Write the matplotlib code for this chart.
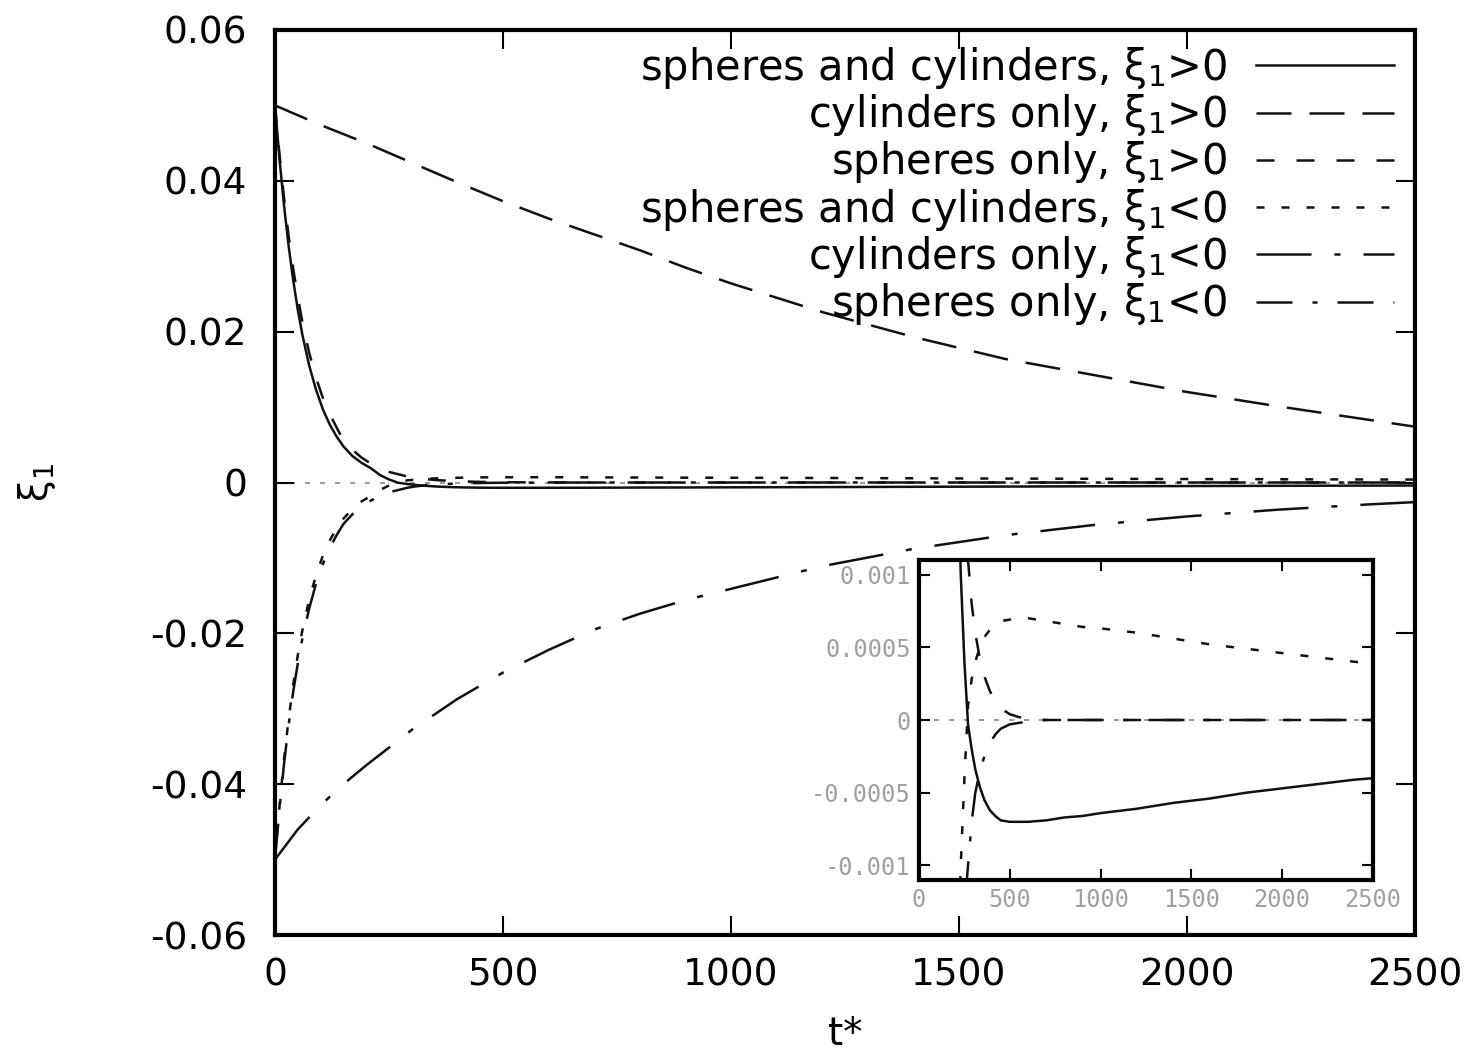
import matplotlib
matplotlib.use('Agg')
import matplotlib.pyplot as plt

# t* sample points for the fast runs (spheres present) and the slow cylinder-only runs
t_fast = [0, 10, 20, 30, 40, 50, 60, 75, 90, 105, 120, 135, 150, 170, 190, 210,
          230, 250, 270, 290, 310, 335, 360, 390, 420, 450, 500, 550, 600, 700,
          800, 900, 1000, 1200, 1400, 1600, 1800, 2000, 2200, 2400, 2500]
t_slow = [0, 50, 100, 150, 200, 300, 400, 500, 600, 700, 800, 900, 1000, 1200,
          1400, 1600, 1800, 2000, 2200, 2400, 2500]

sc_pos = [0.0500, 0.0428, 0.0366, 0.0313, 0.0268, 0.0229, 0.0196, 0.0155, 0.0123,
          0.0097, 0.0077, 0.0061, 0.0048, 0.0035, 0.0026, 0.0019, 0.0010, 0.0004,
          -0.00003, -0.0002, -0.00034, -0.00046, -0.00055, -0.00062, -0.00066,
          -0.00069, -0.0007, -0.0007, -0.0007, -0.00069, -0.00067, -0.00066,
          -0.00064, -0.00061, -0.00057, -0.00054, -0.0005, -0.00047, -0.00044,
          -0.00041, -0.0004]
sc_neg = [-0.0500, -0.0428, -0.0366, -0.0313, -0.0268, -0.0229, -0.0196, -0.0155,
          -0.0123, -0.0097, -0.0077, -0.0061, -0.0048, -0.0035, -0.0025, -0.0018,
          -0.0010, -0.0004, 0.0001, 0.00028, 0.0004, 0.0005, 0.00057, 0.00062,
          0.00065, 0.00068, 0.00069, 0.0007, 0.0007, 0.00068, 0.00066, 0.00064,
          0.00063, 0.0006, 0.00056, 0.00052, 0.00049, 0.00046, 0.00043, 0.0004,
          0.00039]
sph_pos = [0.0500, 0.0434, 0.0376, 0.0326, 0.0283, 0.0246, 0.0213, 0.0172, 0.0139,
           0.0112, 0.0091, 0.0073, 0.0056, 0.0043, 0.0033, 0.0025, 0.0019, 0.0014,
           0.0011, 0.0008, 0.0006, 0.00042, 0.0003, 0.0002, 0.00013, 0.00008,
           0.00004, 0.00002, 0.00001, 0.0, 0.0, 0.0, 0.0, 0.0, 0.0, 0.0, 0.0, 0.0,
           0.0, 0.0, 0.0]
sph_neg = [-0.0500, -0.0432, -0.0372, -0.0321, -0.0277, -0.0240, -0.0207, -0.0167,
           -0.0134, -0.0108, -0.0087, -0.0070, -0.0055, -0.0042, -0.0032, -0.0024,
           -0.0018, -0.0013, -0.001, -0.0007, -0.0005, -0.00035, -0.00025,
           -0.00016, -0.0001, -0.00006, -0.00003, -0.00002, -0.00001, 0.0, 0.0,
           0.0, 0.0, 0.0, 0.0, 0.0, 0.0, 0.0, 0.0, 0.0, 0.0]
cyl_pos = [0.0500, 0.0487, 0.0474, 0.0462, 0.0450, 0.0424, 0.0398, 0.0373, 0.0350,
           0.0329, 0.0308, 0.0285, 0.0264, 0.0226, 0.0193, 0.0164, 0.0142, 0.0120,
           0.0101, 0.0083, 0.0074]
cyl_neg = [-0.0500, -0.0460, -0.0428, -0.0400, -0.0375, -0.0328, -0.0287, -0.0252,
           -0.0222, -0.0195, -0.0174, -0.0156, -0.0141, -0.0111, -0.0088, -0.0070,
           -0.0056, -0.0045, -0.0036, -0.0029, -0.0026]

labels = [r'spheres and cylinders, $\mathregular{\xi_1}$>0',
          r'cylinders only, $\mathregular{\xi_1}$>0',
          r'spheres only, $\mathregular{\xi_1}$>0',
          r'spheres and cylinders, $\mathregular{\xi_1}$<0',
          r'cylinders only, $\mathregular{\xi_1}$<0',
          r'spheres only, $\mathregular{\xi_1}$<0']

main_yticks = [-0.06, -0.04, -0.02, 0, 0.02, 0.04, 0.06]
main_ylabels = ['-0.06', '-0.04', '-0.02', '0', '0.02', '0.04', '0.06']
main_xticks = [0, 500, 1000, 1500, 2000, 2500]
inset_yticks = [-0.001, -0.0005, 0, 0.0005, 0.001]
inset_ylabels = ['-0.001', '-0.0005', '0', '0.0005', '0.001']

LW = 1.8
series = [
    (t_fast, sc_pos, dict(linestyle='-')),
    (t_slow, cyl_pos, dict(dashes=(14, 7.2))),
    (t_fast, sph_pos, dict(dashes=(7.2, 8.8))),
    (t_fast, sc_neg, dict(dashes=(3.2, 6.8))),
    (t_slow, cyl_neg, dict(dashes=(22, 9.2, 2.4, 9.2))),
    (t_fast, sph_neg, dict(dashes=(14.4, 8, 2, 8))),
]

fig = plt.figure(figsize=(14.81, 10.58), dpi=100)
ax = fig.add_axes([275 / 1481, 1 - 935 / 1058, 1140 / 1481, 905 / 1058])

ax.axhline(0, color='#888888', lw=1.2, dashes=(3, 6), zorder=1)
for (t, y, style), lab in zip(series, labels):
    ax.plot(t, y, color='#111111', lw=LW, label=lab, **style)

ax.set_xlim(0, 2500)
ax.set_ylim(-0.06, 0.06)
ax.set_xticks(main_xticks)
ax.set_yticks(main_yticks)
ax.set_yticklabels(main_ylabels)
ax.tick_params(direction='in', length=14, width=1.5, labelsize=27,
               top=True, right=True)
ax.tick_params(axis='x', pad=16)
ax.tick_params(axis='y', pad=20)
for s in ax.spines.values():
    s.set_linewidth(3)

ax.set_xlabel('t*', fontsize=28)
ax.xaxis.set_label_coords(0.5, -0.088)
ax.set_ylabel(r'$\mathregular{\xi_1}$', fontsize=28)
ax.yaxis.set_label_coords(-0.19, 0.5)

leg = ax.legend(loc='upper right', bbox_to_anchor=(0.996, 1.002), frameon=False,
                markerfirst=False, fontsize=30, handlelength=3.3,
                handletextpad=0.7, labelspacing=0.03, borderaxespad=0)

# inset zoom on the late-time behaviour
ax_in = fig.add_axes([919 / 1481, 1 - 880 / 1058, 454 / 1481, 320 / 1058])
ax_in.set_facecolor('white')
ax_in.axhline(0, color='#888888', lw=1.2, dashes=(3, 6), zorder=1)
for t, y, style in series:
    ax_in.plot(t, y, color='#111111', lw=LW, **style)
ax_in.set_xlim(0, 2500)
ax_in.set_ylim(-0.0011, 0.0011)
ax_in.set_xticks(main_xticks)
ax_in.set_yticks(inset_yticks)
ax_in.set_yticklabels(inset_ylabels)
ax_in.tick_params(direction='in', length=8, width=1.5, labelsize=17,
                  labelcolor='#a0a0a0', top=True, right=True, pad=6)
for lbl in ax_in.get_xticklabels() + ax_in.get_yticklabels():
    lbl.set_family('DejaVu Sans Mono')
for s in ax_in.spines.values():
    s.set_linewidth(3)

fig.savefig('out.png', dpi=100)
